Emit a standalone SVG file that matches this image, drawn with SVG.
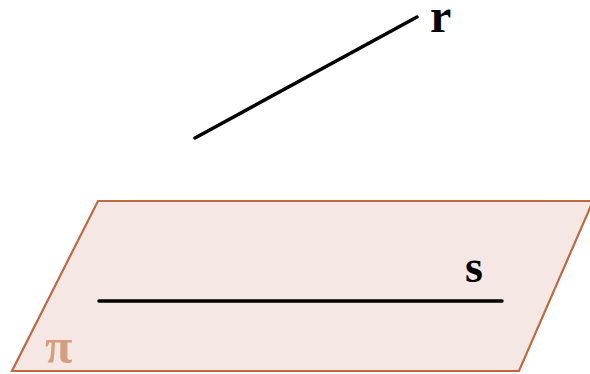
<svg xmlns="http://www.w3.org/2000/svg" width="590" height="374" viewBox="0 0 590 374">
<style>
.lbl{font-family:"Liberation Serif","Times New Roman",serif;font-weight:bold;fill:#000}
.line{stroke:#000;stroke-width:3.5;stroke-linecap:round;fill:none}
</style>
<rect width="590" height="374" fill="#fff"/>
<g id="plane">
<polygon points="98,201 593,201 519,371 12,371" fill="#f5e8e4" stroke="#c0683f" stroke-width="2.2"/>
<text x="45" y="363" font-family="Liberation Serif, serif" font-weight="bold" font-size="50" fill="#d69e7e">π</text>
</g>
<g id="line-s">
<line class="line" x1="99" y1="301" x2="502" y2="301"/>
<text class="lbl" x="465" y="282" font-size="46">s</text>
</g>
<g id="line-r">
<line class="line" x1="195" y1="138" x2="417" y2="17"/>
<text class="lbl" x="430" y="32" font-size="48">r</text>
</g>
</svg>
